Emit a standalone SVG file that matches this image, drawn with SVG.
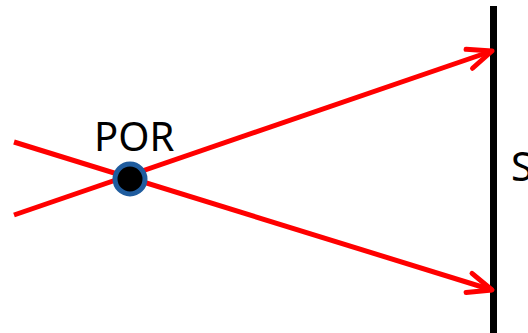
<svg xmlns="http://www.w3.org/2000/svg" width="528" height="333" viewBox="0 0 528 333">
<defs>
<style>
.ray{stroke:#FF0000;stroke-width:5;fill:none}
.lbl{font-family:"Noto Sans","Open Sans",sans-serif;font-size:40px;fill:#000}
</style>
<marker id="arr" markerUnits="userSpaceOnUse" viewBox="-30 -15 34 30" refX="0" refY="0" markerWidth="34" markerHeight="30" orient="auto" overflow="visible">
<path d="M-24,-10 L0,0 L-24,10" fill="none" stroke="#FF0000" stroke-width="5" stroke-linecap="round" stroke-linejoin="round"/>
</marker>
</defs>
<rect width="528" height="333" fill="#FFFFFF"/>
<g id="screen">
<rect x="490" y="6" width="7" height="327" fill="#000"/>
<text class="lbl" x="511" y="181">S</text>
</g>
<g id="connectors">
<line class="ray" x1="14" y1="142" x2="492" y2="290" marker-end="url(#arr)"/>
<line class="ray" x1="14" y1="215" x2="492" y2="51" marker-end="url(#arr)"/>
</g>
<g id="por">
<circle cx="130" cy="179" r="15" fill="#000" stroke="#1F5C9E" stroke-width="5"/>
<text class="lbl" x="94" y="151">POR</text>
</g>
</svg>
